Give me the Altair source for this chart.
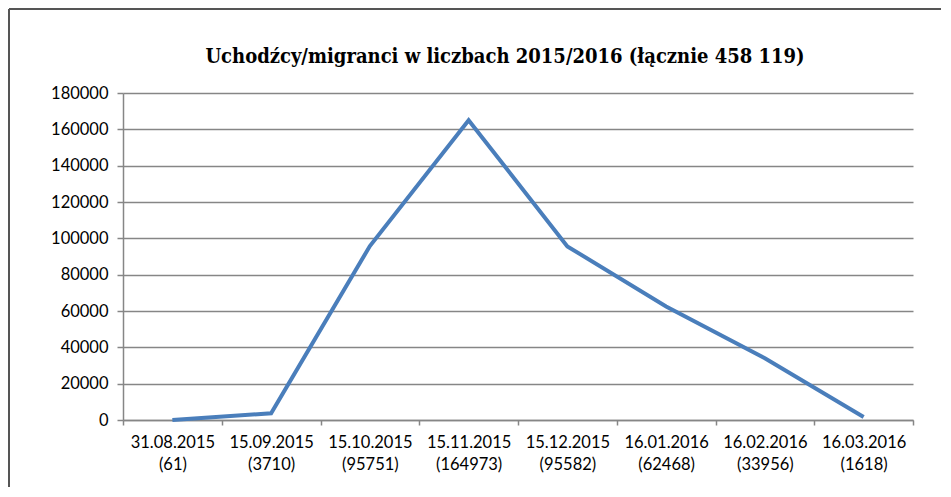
import altair as alt
import pandas as pd

dates = ["31.08.2015", "15.09.2015", "15.10.2015", "15.11.2015",
         "15.12.2015", "16.01.2016", "16.02.2016", "16.03.2016"]
values = [61, 3710, 95751, 164973, 95582, 62468, 33956, 1618]
y_ticks = list(range(0, 180001, 20000))
title_text = "Uchodźcy/migranci w liczbach 2015/2016 (łącznie 458 119)"

df = pd.DataFrame({
    "cat": [f"{d} ({v})" for d, v in zip(dates, values)],
    "value": values,
})

W, H = 790, 327
GRAY = "#868686"
FONT = "Lato"

line = alt.Chart(df).mark_line(color="#4a7ebb", strokeWidth=4).encode(
    x=alt.X("cat:N", sort=None, title=None,
            scale=alt.Scale(paddingInner=0, paddingOuter=0),
            axis=alt.Axis(labelExpr="split(datum.label, ' ')", labelAngle=0,
                          labelLineHeight=22, labelPadding=9, tickBand="extent",
                          tickSize=5, tickColor=GRAY, domainColor=GRAY,
                          domainWidth=1.5, tickWidth=1.5, grid=False,
                          labelFont=FONT, labelFontSize=16.5, labelColor="#000")),
    y=alt.Y("value:Q", title=None,
            scale=alt.Scale(domain=[0, 180000], nice=False),
            axis=alt.Axis(values=y_ticks, format="d", tickSize=6,
                          tickColor=GRAY, domainColor=GRAY, domainWidth=1.5,
                          tickWidth=1.5, gridColor=GRAY, gridWidth=1.3,
                          labelPadding=9, labelFont=FONT, labelFontSize=16.5,
                          labelColor="#000")),
)

title_df = pd.DataFrame({"t": [title_text]})
title = alt.Chart(title_df).mark_text(
    font="DejaVu Serif Condensed", fontSize=20, fontWeight="bold",
    color="#000", align="center", baseline="middle",
).encode(text="t:N", x=alt.value(382), y=alt.value(-36))

border_top = alt.Chart(df).mark_rule(color="#555555", strokeWidth=2).encode(
    x=alt.value(-114), x2=alt.value(818), y=alt.value(-84))
border_left = alt.Chart(df).mark_rule(color="#555555", strokeWidth=2).encode(
    x=alt.value(-114), y=alt.value(-84), y2=alt.value(394))

chart = alt.layer(border_top, border_left, title, line).properties(
    width=W, height=H, padding=0,
).configure_view(stroke=None)

chart.save("out.html", embed_options={"renderer": "svg", "actions": False})
